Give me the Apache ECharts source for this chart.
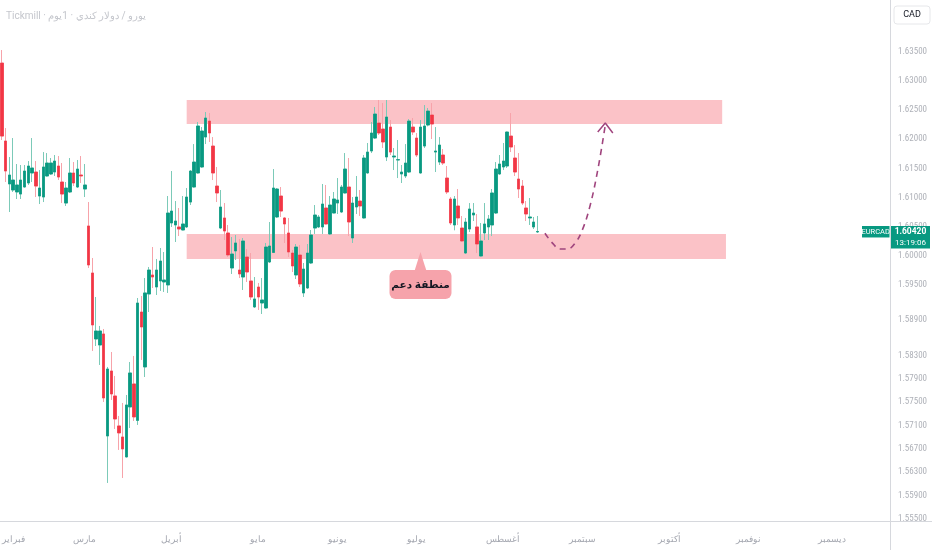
<!DOCTYPE html>
<html><head><meta charset="utf-8">
<script src="https://cdn.jsdelivr.net/npm/echarts@6/dist/echarts.min.js"></script>
<style>html,body{margin:0;padding:0;background:#fff}#c{width:932px;height:550px}</style>
</head><body><div id="c"></div>
<script>
const monthLabels = ['فبراير','مارس','أبريل','مايو','يونيو','يوليو','أغسطس','سبتمبر','أكتوبر','نوفمبر','ديسمبر'];
const monthIdx = [3,22,45,68,89,110,133,154,177,198,220];
const slotCount = 236;

const open = [1.63304,1.61969,1.61233,1.6113,1.61096,1.61061,1.61181,1.6125,1.61421,1.61438,
1.61027,1.6101,1.6137,1.61404,1.61438,1.61541,1.61267,1.60907,1.61096,1.61421,
1.61181,1.61387,1.61147,1.60514,1.59709,1.58579,1.58476,1.58665,1.56918,1.58031,
1.57603,1.5709,1.56901,1.56559,1.57415,1.57809,1.57185,1.59041,1.581,1.59349,
1.59675,1.59469,1.59572,1.59555,1.59504,1.60565,1.60531,1.60497,1.60445,1.60497,
1.60924,1.61181,1.61421,1.61524,1.62037,1.62311,1.61883,1.61198,1.60479,1.60651,
1.60394,1.59795,1.60086,1.5976,1.5964,1.59983,1.59572,1.59127,1.59469,1.59195,
1.5911,1.59897,1.6006,1.60668,1.61027,1.60651,1.60394,1.60051,1.59675,1.60017,
1.59367,1.59452,1.5988,1.60479,1.60497,1.60497,1.60822,1.60377,1.60736,1.60907,
1.60753,1.61079,1.61181,1.60308,1.60839,1.60941,1.60651,1.61421,1.61798,1.6202,
1.62277,1.62174,1.61695,1.62208,1.61695,1.61644,1.61404,1.6137,1.61438,1.62208,
1.6202,1.61421,1.61883,1.62243,1.62414,1.6178,1.61609,1.61729,1.61335,1.60976,
1.60531,1.60856,1.60479,1.60051,1.60462,1.60702,1.60497,1.6,1.60394,1.60497,
1.60531,1.60736,1.61404,1.61524,1.61541,1.62054,1.61678,1.61318,1.61198,1.60822,
1.60651,1.60497,1.60411];
const close = [1.62054,1.61455,1.61387,1.61301,1.61216,1.61301,1.61455,1.61541,1.61507,1.61198,
1.61164,1.61524,1.61592,1.61592,1.61626,1.61352,1.61061,1.61164,1.61421,1.6125,
1.61489,1.6137,1.61216,1.59846,1.58819,1.58716,1.58716,1.57569,1.58065,1.57637,
1.57209,1.5697,1.56696,1.57449,1.57997,1.57244,1.59195,1.58784,1.59367,1.5976,
1.5964,1.5976,1.59914,1.59589,1.60736,1.6077,1.60599,1.60462,1.60548,1.6101,
1.61455,1.61609,1.62226,1.6214,1.62363,1.62106,1.61421,1.61079,1.60839,1.60428,
1.60017,1.60034,1.60223,1.59692,1.60257,1.59726,1.59298,1.59264,1.59298,1.59247,
1.60154,1.60171,1.61164,1.61147,1.6077,1.60548,1.60068,1.59829,1.60154,1.59521,
1.59777,1.60051,1.6036,1.60702,1.60668,1.6089,1.60548,1.60873,1.60976,1.60959,
1.61181,1.61489,1.60582,1.60907,1.6101,1.60856,1.61678,1.6178,1.62106,1.62431,
1.62106,1.61952,1.6238,1.6178,1.61712,1.6165,1.61438,1.61592,1.62311,1.62123,
1.61729,1.62208,1.62226,1.62482,1.6226,1.61798,1.619,1.61592,1.61096,1.60565,
1.60976,1.60651,1.60257,1.60582,1.60805,1.60736,1.60205,1.60257,1.60548,1.60634,
1.61079,1.61489,1.61575,1.61626,1.62123,1.61866,1.61438,1.61147,1.60907,1.60719,
1.60668,1.60582,1.6042];
const low = [1.61986,1.61267,1.60753,1.61096,1.60976,1.60976,1.6117,1.61216,1.61267,1.6101,
1.6089,1.60924,1.6136,1.61387,1.6137,1.61301,1.60907,1.60856,1.61079,1.61198,
1.61164,1.6125,1.6101,1.59795,1.58374,1.58459,1.58134,1.575,1.56114,1.57535,
1.57038,1.56679,1.56199,1.5655,1.57055,1.57175,1.57107,1.5822,1.57928,1.59041,
1.59452,1.59332,1.59401,1.59384,1.59367,1.60497,1.6024,1.60342,1.6044,1.60479,
1.60873,1.6117,1.6141,1.6151,1.61917,1.61952,1.61301,1.60924,1.60462,1.60274,
1.59983,1.59692,1.59932,1.59623,1.59418,1.59555,1.59247,1.5911,1.59076,1.59007,
1.59093,1.5988,1.60051,1.60651,1.60668,1.60223,1.59983,1.59726,1.59606,1.59469,
1.59298,1.59435,1.59863,1.60377,1.60479,1.60377,1.6054,1.6036,1.6073,1.60719,
1.60736,1.6107,1.60342,1.60223,1.60719,1.60685,1.6064,1.6141,1.61763,1.62003,
1.62072,1.61849,1.61626,1.61729,1.61472,1.61335,1.6125,1.61335,1.61421,1.62072,
1.61695,1.6141,1.61849,1.6222,1.62003,1.61438,1.61558,1.61558,1.61061,1.60531,
1.6044,1.60531,1.6024,1.60034,1.60411,1.60599,1.60051,1.5999,1.60274,1.60274,
1.60342,1.60719,1.6139,1.61472,1.61507,1.6178,1.6137,1.60993,1.60873,1.60599,
1.60531,1.60462,1.60394];
const high = [1.63527,1.62191,1.61695,1.6202,1.61575,1.61558,1.61558,1.61626,1.6202,1.61626,
1.61472,1.6178,1.61763,1.61678,1.61729,1.61712,1.61592,1.61267,1.61678,1.61609,
1.61644,1.61712,1.61575,1.60924,1.59966,1.59298,1.58802,1.5875,1.581,1.58356,
1.57946,1.57261,1.57483,1.5762,1.58185,1.58288,1.59281,1.59315,1.59623,1.59812,
1.60154,1.59949,1.60137,1.60068,1.61027,1.61455,1.60941,1.60822,1.61027,1.61164,
1.61472,1.61917,1.62294,1.62208,1.62465,1.62448,1.62037,1.61524,1.6113,1.60907,
1.60531,1.60325,1.6036,1.60291,1.60308,1.6012,1.60051,1.5964,1.59538,1.59623,
1.60223,1.60582,1.61489,1.61164,1.61181,1.60668,1.60651,1.60103,1.60205,1.60188,
1.5988,1.60205,1.60445,1.60873,1.60702,1.61233,1.61216,1.61027,1.61096,1.61335,
1.61216,1.61763,1.61678,1.6101,1.6137,1.6113,1.61729,1.61935,1.62294,1.62551,
1.62671,1.62619,1.62671,1.62328,1.61849,1.61986,1.61558,1.61917,1.62345,1.62363,
1.62106,1.62328,1.62585,1.62534,1.62619,1.62208,1.62037,1.61832,1.61541,1.6101,
1.61027,1.61147,1.60685,1.60651,1.60907,1.60907,1.60719,1.60565,1.60907,1.60702,
1.61147,1.61609,1.61729,1.61935,1.6213,1.62448,1.619,1.61763,1.61301,1.60941,
1.60993,1.60668,1.60685];

const priceTicks = [1.635,1.63,1.625,1.62,1.615,1.61,1.605,1.6,1.595,1.589,1.583,1.579,1.575,1.571,1.567,1.563,1.559,1.555];
const resZone = {from: 49, to: 191, low: 1.6226, high: 1.62671};
const supZone = {from: 49, to: 192, low: 1.59949, high: 1.60377};
const projIdx = [144,146,148,150,152,154,156,158,160];
const projVal = [1.6039,1.6022,1.6012,1.6012,1.6022,1.6046,1.6087,1.6147,1.6224];
const arrowIdx = [158,160,162];
const arrowVal = [1.62123,1.62277,1.62106];
const calloutAt = {idx: 111, price: 1.6007, text: 'منطقة دعم'};
const symbolName = 'EURCAD';
const lastTime = '13:19:06';
const titleText = 'Tickmill · يورو / دولار كندي · 1يوم';

const UP = '#089981', DOWN = '#f23645';
const UPW = '#7ccab8', DOWNW = '#f7a3aa';

const categories = Array.from({length: slotCount}, () => '');
monthIdx.forEach((ix, k) => { categories[ix] = monthLabels[k]; });

const wickData = open.map((o, i) => [o, close[i], low[i], high[i]]);
const bodyData = open.map((o, i) => [o, close[i], Math.min(o, close[i]), Math.max(o, close[i])]);

const Y_MIN = 1.554623, Y_MAX = 1.643836;

const chart = echarts.init(document.getElementById('c'), null, {renderer: 'canvas'});
chart.setOption({
  animation: false,
  backgroundColor: '#ffffff',
  grid: {left: 0, right: 42, top: 0, bottom: 29, containLabel: false, outerBoundsMode: 'none'},
  xAxis: {
    type: 'category', data: categories, boundaryGap: true,
    axisLine: {show: false}, axisTick: {show: false}, splitLine: {show: false},
    axisLabel: {interval: 0, color: '#a3a6af', fontSize: 9, margin: 14, fontFamily: 'Roboto, sans-serif'}
  },
  yAxis: {
    type: 'value', position: 'right', min: Y_MIN, max: Y_MAX, scale: true,
    splitLine: {show: false},
    axisLine: {show: true, lineStyle: {color: '#d6d8dd', width: 1}},
    axisTick: {show: false},
    axisLabel: {
      customValues: priceTicks, color: '#aeb1b8', fontSize: 9, margin: 8,
      fontFamily: '"Liberation Sans Narrow", "Roboto Condensed", Roboto, sans-serif',
      formatter: v => Number(v).toFixed(5)
    }
  },
  series: [
    {
      type: 'candlestick', name: 'wick', data: wickData, barWidth: 3, z: 3,
      itemStyle: {color: UPW, color0: DOWNW, borderColor: UPW, borderColor0: DOWNW, borderWidth: 1},
      markArea: {
        silent: true, z: 1,
        itemStyle: {color: '#fbc2c7'},
        data: [
          [{xAxis: resZone.from, yAxis: resZone.high}, {xAxis: resZone.to, yAxis: resZone.low}],
          [{xAxis: supZone.from, yAxis: supZone.high}, {xAxis: supZone.to, yAxis: supZone.low}]
        ]
      }
    },
    {
      type: 'candlestick', name: 'body', data: bodyData, barWidth: 3, z: 4,
      itemStyle: {color: UP, color0: DOWN, borderColor: UP, borderColor0: DOWN, borderWidth: 0.6}
    },
    {
      type: 'line', name: 'projection', z: 5, smooth: 0.4, symbol: 'none',
      data: projIdx.map((x, i) => [x, projVal[i]]),
      lineStyle: {color: '#a0457e', width: 1.6, type: [6, 5]}
    },
    {
      type: 'line', name: 'arrow', z: 5, symbol: 'none',
      data: arrowIdx.map((x, i) => [x, arrowVal[i]]),
      lineStyle: {color: '#a0457e', width: 1.5}
    }
  ]
});

const p = chart.convertToPixel({gridIndex: 0}, [calloutAt.idx, calloutAt.price]);
const lastY = chart.convertToPixel({gridIndex: 0}, [0, close[close.length - 1]])[1];
const ax = p[0], ay = p[1];
chart.setOption({
  graphic: [
    {type: 'text', left: 6, top: 11, style: {text: titleText, fill: '#c4c6cc', fontSize: 10, fontFamily: 'Roboto, sans-serif'}},
    {type: 'line', shape: {x1: 0, y1: 521.5, x2: 932, y2: 521.5}, style: {stroke: '#d6d8dd', lineWidth: 1}, z: 10},
    {type: 'line', shape: {x1: 890.5, y1: 0, x2: 890.5, y2: 550}, style: {stroke: '#d6d8dd', lineWidth: 1}, z: 10},
    {type: 'rect', shape: {x: 894, y: 6, width: 36, height: 18, r: 3}, style: {fill: '#fff', stroke: '#e6e7ea', lineWidth: 1}, z: 10},
    {type: 'text', x: 912, y: 15, style: {text: 'CAD', fill: '#131722', fontSize: 9, align: 'center', verticalAlign: 'middle', fontFamily: 'Roboto, sans-serif'}, z: 11},
    {type: 'polygon', shape: {points: [[ax - 6, ay + 19], [ax, ay], [ax + 6, ay + 19]]}, style: {fill: '#f6a3ab'}, z: 12},
    {type: 'rect', shape: {x: ax - 31, y: ay + 18, width: 62, height: 29, r: 6}, style: {fill: '#f6a3ab'}, z: 12},
    {type: 'text', x: ax, y: ay + 33, style: {text: calloutAt.text, fill: '#131722', fontSize: 10.5, fontWeight: 'bold', align: 'center', verticalAlign: 'middle', fontFamily: '"Noto Sans", "DejaVu Sans", sans-serif'}, z: 13},
    {type: 'rect', shape: {x: 862, y: lastY - 5.5, width: 27.5, height: 11.5}, style: {fill: UP}, z: 12},
    {type: 'text', x: 875.7, y: lastY + 0.3, style: {text: symbolName, fill: '#fff', fontSize: 7.5, align: 'center', verticalAlign: 'middle', fontFamily: '"Liberation Sans Narrow", Roboto, sans-serif'}, z: 13},
    {type: 'rect', shape: {x: 891, y: lastY - 5.5, width: 39, height: 22.5}, style: {fill: UP}, z: 12},
    {type: 'text', x: 910.5, y: lastY + 0.3, style: {text: close[close.length - 1].toFixed(5), fill: '#fff', fontSize: 8.5, fontWeight: 'bold', align: 'center', verticalAlign: 'middle', fontFamily: '"Liberation Sans Narrow", Roboto, sans-serif'}, z: 13},
    {type: 'text', x: 910.5, y: lastY + 11.3, style: {text: lastTime, fill: '#fff', fontSize: 8, align: 'center', verticalAlign: 'middle', fontFamily: '"Liberation Sans Narrow", Roboto, sans-serif'}, z: 13}
  ]
});
</script>
</body></html>
